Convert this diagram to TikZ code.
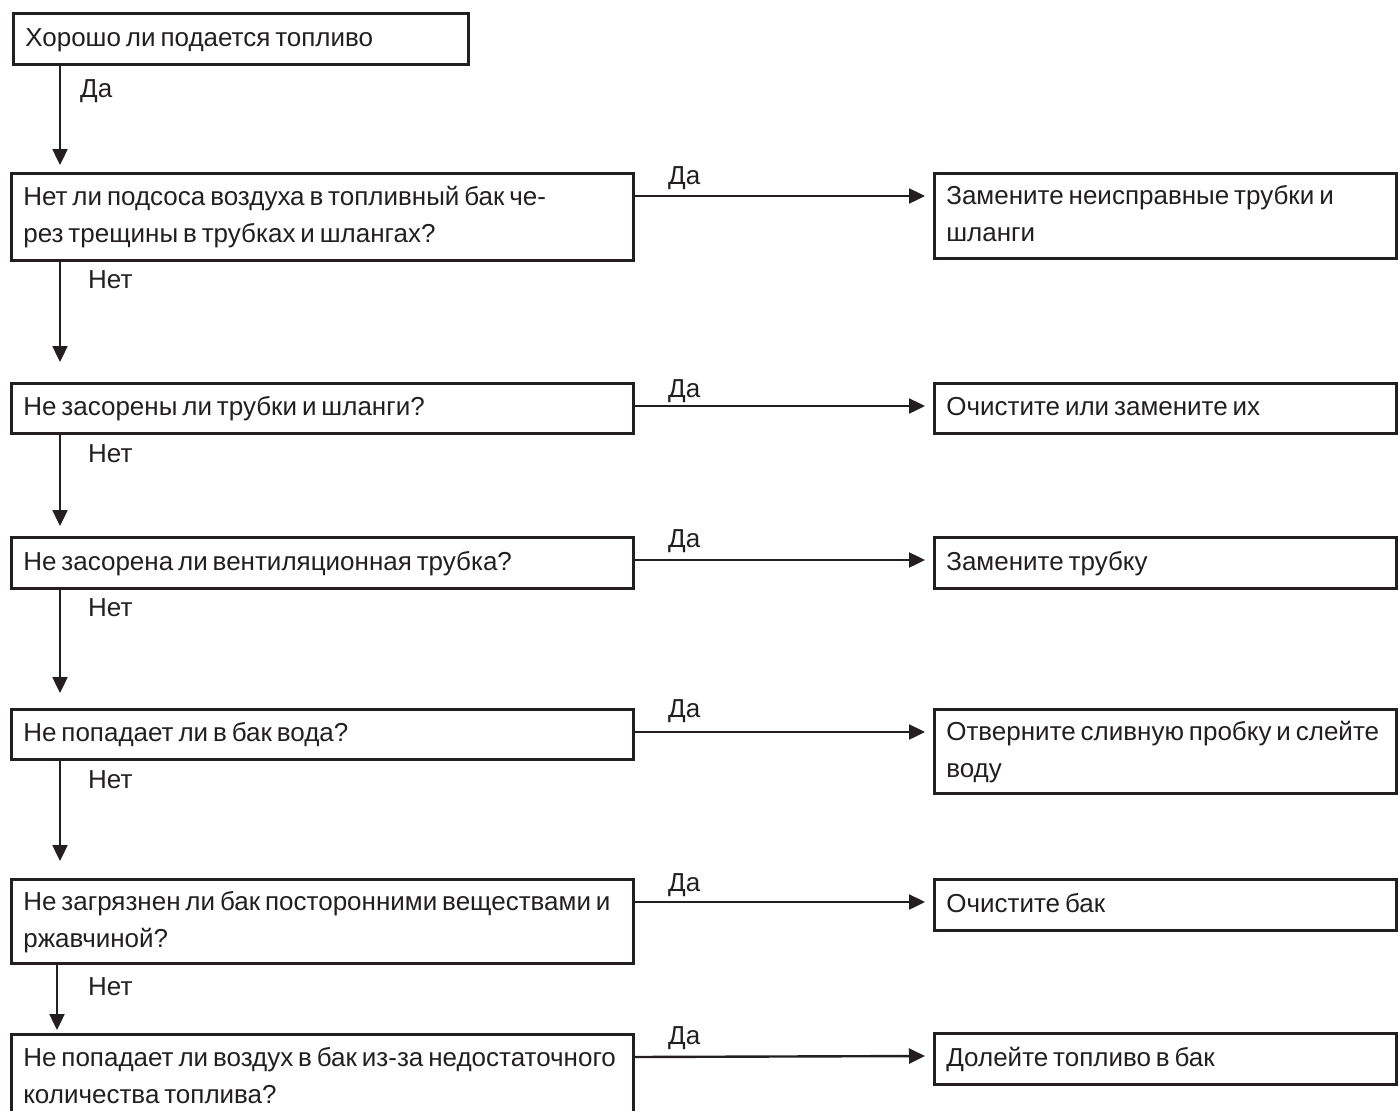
\documentclass[tikz,border=0pt]{standalone}
\usepackage{fontspec}
\setmainfont{Liberation Sans}
\usetikzlibrary{arrows.meta}
\definecolor{ink}{HTML}{231F20}
\begin{document}
\begin{tikzpicture}[x=1pt,y=-1pt,
  box/.style={draw=ink, line width=2.6pt, anchor=north west, inner xsep=11pt, inner ysep=0pt,
    align=left, text=ink, font=\fontsize{26}{37}\selectfont,
    execute at begin node={\spaceskip=4.9pt plus 1pt minus 1pt\strut}, execute at end node=\strut},
  lbox/.style={box, minimum width=622pt, text width=598pt},
  rbox/.style={box, minimum width=462pt, text width=438pt},
  arr/.style={draw=ink, line width=2.4pt, -{Triangle[length=16pt,width=15pt]}},
  lab/.style={anchor=base west, inner sep=0pt, text=ink, font=\fontsize{26}{30}\selectfont}]
\useasboundingbox (0,0) rectangle (1398,1111);
\clip (0,0) rectangle (1398,1111);

% question boxes
\node[box, minimum width=455pt, text width=431pt, minimum height=51pt] (q1) at (12,12) {\mbox{Хорошо ли подается топливо}};
\node[lbox, minimum height=87pt] (q2) at (10,172) {\mbox{Нет ли подсоса воздуха в топливный бак че-}\\\mbox{рез трещины в трубках и шлангах?}};
\node[lbox, minimum height=50pt] (q3) at (10,382) {\mbox{Не засорены ли трубки и шланги?}};
\node[lbox, minimum height=51pt] (q4) at (10,536) {\mbox{Не засорена ли вентиляционная трубка?}};
\node[lbox, minimum height=50pt] (q5) at (10,708) {\mbox{Не попадает ли в бак вода?}};
\node[lbox, minimum height=84pt] (q6) at (10,878) {\mbox{Не загрязнен ли бак посторонними веществами и}\\\mbox{ржавчиной?}};
\node[lbox, minimum height=86pt] (q7) at (10,1033) {\mbox{Не попадает ли воздух в бак из-за недостаточного}\\\mbox{количества топлива?}};

% answer boxes
\node[rbox, minimum height=85pt] (a2) at (933,172) {\mbox{Замените неисправные трубки и}\\\mbox{шланги}};
\node[rbox, minimum height=50pt] (a3) at (933,382) {\mbox{Очистите или замените их}};
\node[rbox, minimum height=51pt] (a4) at (933,536) {\mbox{Замените трубку}};
\node[rbox, minimum height=84pt] (a5) at (933,708) {\mbox{Отверните сливную пробку и слейте}\\\mbox{воду}};
\node[rbox, minimum height=51pt] (a6) at (933,878) {\mbox{Очистите бак}};
\node[rbox, minimum height=51pt] (a7) at (933,1032) {\mbox{Долейте топливо в бак}};

% vertical connectors
\draw[arr] ([xshift=48pt]q1.south west) -- ([xshift=50pt,yshift=7pt]q2.north west);
\draw[arr] ([xshift=50pt]q2.south west) -- ([xshift=50pt,yshift=20pt]q3.north west);
\draw[arr] ([xshift=50pt]q3.south west) -- ([xshift=50pt,yshift=10pt]q4.north west);
\draw[arr] ([xshift=50pt]q4.south west) -- ([xshift=50pt,yshift=15pt]q5.north west);
\draw[arr] ([xshift=50pt]q5.south west) -- ([xshift=50pt,yshift=17pt]q6.north west);
\draw[arr] ([xshift=47pt]q6.south west) -- ([xshift=47pt,yshift=3pt]q7.north west);

% horizontal connectors
\draw[arr] ([yshift=-24pt]q2.north east) -- ([xshift=-8pt,yshift=-24pt]a2.north west);
\draw[arr] ([yshift=-24pt]q3.north east) -- ([xshift=-8pt,yshift=-24pt]a3.north west);
\draw[arr] ([yshift=-24pt]q4.north east) -- ([xshift=-8pt,yshift=-24pt]a4.north west);
\draw[arr] ([yshift=-24pt]q5.north east) -- ([xshift=-8pt,yshift=-24pt]a5.north west);
\draw[arr] ([yshift=-24pt]q6.north east) -- ([xshift=-8pt,yshift=-24pt]a6.north west);
\draw[arr] ([yshift=-24pt]q7.north east) -- ([xshift=-8pt,yshift=-24pt]a7.north west);

% labels
\node[lab] (d1) at (80,97) {Да};
\node[lab] (n2) at (88,288) {Нет};
\node[lab] (n3) at (88,462) {Нет};
\node[lab] (n4) at (88,616) {Нет};
\node[lab] (n5) at (88,788) {Нет};
\node[lab] (n6) at (88,995) {Нет};
\node[lab] (d2) at (668,184) {Да};
\node[lab] (d3) at (668,397) {Да};
\node[lab] (d4) at (668,547) {Да};
\node[lab] (d5) at (668,717) {Да};
\node[lab] (d6) at (668,891) {Да};
\node[lab] (d7) at (668,1044) {Да};
\end{tikzpicture}
\end{document}
